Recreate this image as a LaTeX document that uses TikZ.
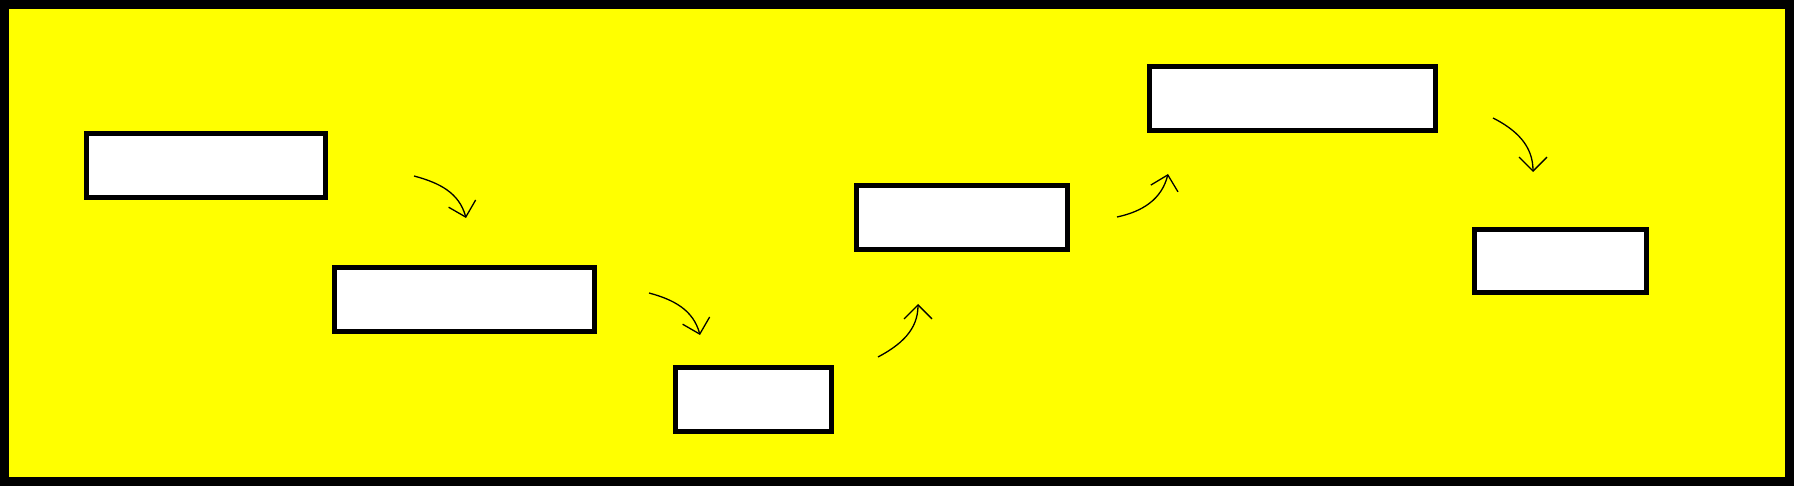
\documentclass[tikz,border=0pt]{standalone}
\usetikzlibrary{arrows.meta}
\definecolor{bgyellow}{RGB}{255,255,0}
\begin{document}
\begin{tikzpicture}[x=1pt, y=1pt,
	box/.style={draw, fill=white, line width=5pt, inner sep=0pt, minimum height=64pt},
	flow/.style={line width=1.3pt, -{Straight Barb[length=14pt, width=28pt]}}]
	\useasboundingbox (0,0) rectangle (1794,486);
	\draw[line width=9pt, fill=bgyellow] (4.5,4.5) rectangle (1789.5,481.5);
	\node[box, minimum width=239pt] (b1) at (206,320.5) {};
	\node[box, minimum width=260pt] (b2) at (464.5,186.5) {};
	\node[box, minimum width=156pt] (b3) at (753.5,86.5) {};
	\node[box, minimum width=211pt] (b4) at (962,268.5) {};
	\node[box, minimum width=286pt] (b5) at (1292.5,387.5) {};
	\node[box, minimum width=172pt, minimum height=63pt] (b6) at (1560.5,225) {};
	\coordinate (s1) at (414,310); \coordinate (t1) at (466,268);
	\coordinate (s2) at (649,193); \coordinate (t2) at (700,151);
	\coordinate (s3) at (878,129); \coordinate (t3) at (918,182);
	\coordinate (s4) at (1117,269); \coordinate (t4) at (1168,312);
	\coordinate (s5) at (1493,368); \coordinate (t5) at (1533,314);
	\draw[flow] (s1) to[out=-15, in=105] (t1);
	\draw[flow] (s2) to[out=-15, in=105] (t2);
	\draw[flow] (s3) to[out=28, in=-90] (t3);
	\draw[flow] (s4) to[out=12, in=-104] (t4);
	\draw[flow] (s5) to[out=-27, in=90] (t5);
\end{tikzpicture}
\end{document}
